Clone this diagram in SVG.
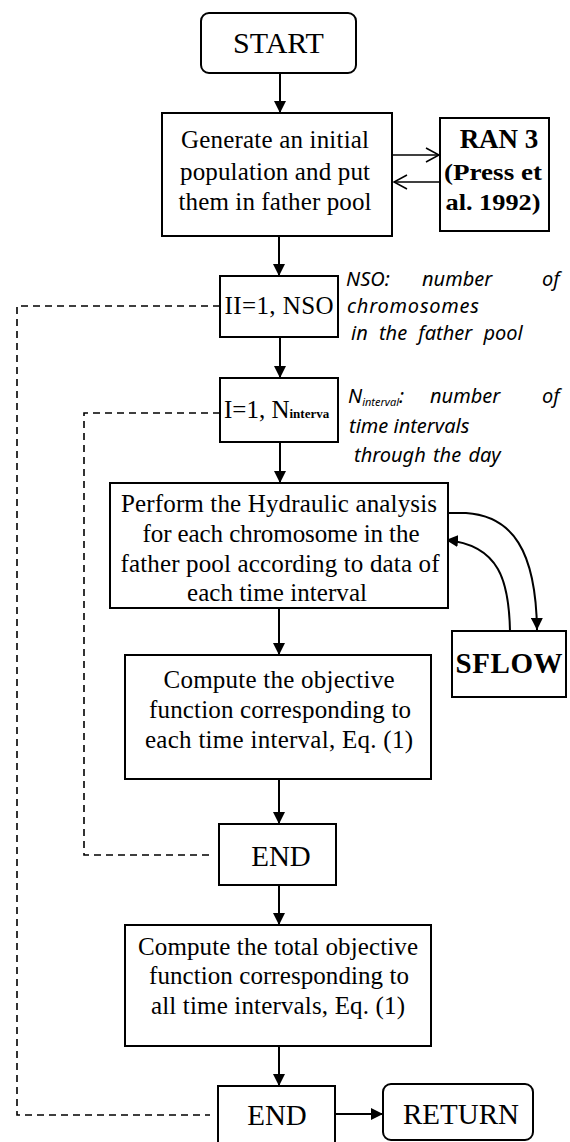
<svg xmlns="http://www.w3.org/2000/svg" width="570" height="1142" viewBox="0 0 570 1142">
<style>
.box{fill:#fff;stroke:#000;stroke-width:2}
.t{font-family:"Liberation Serif","Times New Roman",serif;font-size:25px;fill:#000;text-anchor:middle}
.b{font-family:"Liberation Serif","Times New Roman",serif;font-weight:bold;fill:#000;text-anchor:middle}
.lbl{font-family:"Noto Sans","DejaVu Sans",sans-serif;font-style:italic;font-size:20px;fill:#000}
.ln{fill:none;stroke:#000;stroke-width:2}
.dash{fill:none;stroke:#000;stroke-width:1.6;stroke-dasharray:7 5}
.thin{fill:none;stroke:#000;stroke-width:1.5}
</style>
<defs>
<marker id="arr" markerUnits="userSpaceOnUse" markerWidth="12" markerHeight="12" refX="12" refY="6" orient="auto">
<path d="M0,0 L12,6 L0,12 z" fill="#000"/>
</marker>
<marker id="chev" markerUnits="userSpaceOnUse" markerWidth="16" markerHeight="16" refX="14" refY="8" orient="auto">
<path d="M1,1 L14,8 L1,15" fill="none" stroke="#000" stroke-width="1.5"/>
</marker>
</defs>

<g id="connectors">
<line class="ln" x1="280" y1="73" x2="280" y2="113" marker-end="url(#arr)"/>
<line class="thin" x1="393" y1="155" x2="439" y2="155" marker-end="url(#chev)"/>
<line class="thin" x1="439" y1="182" x2="394" y2="182" marker-end="url(#chev)"/>
<line class="ln" x1="279" y1="236" x2="279" y2="276" marker-end="url(#arr)"/>
<line class="ln" x1="280" y1="337" x2="280" y2="378" marker-end="url(#arr)"/>
<line class="ln" x1="280" y1="442" x2="280" y2="483" marker-end="url(#arr)"/>
<path class="ln" d="M448,513 L466,513 C512,516 536,550 537,630" marker-end="url(#arr)"/>
<path class="ln" d="M510,631 C509,582 500,545 446,540" marker-end="url(#arr)"/>
<line class="ln" x1="279" y1="608" x2="279" y2="655" marker-end="url(#arr)"/>
<line class="ln" x1="279" y1="779" x2="279" y2="824" marker-end="url(#arr)"/>
<line class="ln" x1="279" y1="885" x2="279" y2="925" marker-end="url(#arr)"/>
<line class="ln" x1="279" y1="1046" x2="279" y2="1086" marker-end="url(#arr)"/>
<line class="ln" x1="335" y1="1114" x2="383" y2="1114" marker-end="url(#arr)"/>
<polyline class="dash" points="220,306 17,306 17,1115 210,1115"/>
<polyline class="dash" points="220,413 84,413 84,855 211,855"/>
</g>

<g id="start">
<rect class="box" x="201" y="13" width="155" height="60" rx="8"/>
<text class="t" x="278.5" y="53" style="font-size:30px">START</text>
</g>

<g id="generate">
<rect class="box" x="162" y="113" width="230" height="123"/>
<text class="t" x="275" y="148" textLength="188">Generate an initial</text>
<text class="t" x="275" y="180" textLength="190">population and put</text>
<text class="t" x="275" y="210" textLength="193">them in father pool</text>
</g>

<g id="ran3">
<rect class="box" x="440" y="118" width="109" height="113"/>
<text class="b" x="499" y="148" style="font-size:27px">RAN 3</text>
<text class="b" x="493" y="180" style="font-size:23px" textLength="98" lengthAdjust="spacingAndGlyphs">(Press et</text>
<text class="b" x="493" y="210" style="font-size:23px" textLength="95" lengthAdjust="spacingAndGlyphs">al. 1992)</text>
</g>

<g id="loop-nso">
<rect class="box" x="220" y="276" width="118" height="61"/>
<text class="t" x="279" y="314" textLength="109">II=1, NSO</text>
</g>

<g id="nso-label">
<text class="lbl" y="286"><tspan x="346">NSO:</tspan><tspan x="422">number</tspan><tspan x="542">of</tspan></text>
<text class="lbl" x="347" y="313" textLength="132">chromosomes</text>
<text class="lbl" x="351" y="340" style="word-spacing:6px">in the father pool</text>
</g>

<g id="loop-interval">
<rect class="box" x="220" y="378" width="118" height="64"/>
<text class="t" x="224" y="418" style="text-anchor:start">I=1, N<tspan style="font-size:13px;font-weight:bold">interva</tspan></text>
</g>

<g id="interval-label">
<text class="lbl" y="403"><tspan x="348">N</tspan><tspan style="font-size:11px" dy="3">interval</tspan><tspan dy="-3">:</tspan><tspan x="430">number</tspan><tspan x="542">of</tspan></text>
<text class="lbl" x="349" y="433">time intervals</text>
<text class="lbl" x="354" y="462" style="word-spacing:2px">through the day</text>
</g>

<g id="hydraulic">
<rect class="box" x="110" y="483" width="338" height="125"/>
<text class="t" x="279" y="512" textLength="316">Perform the Hydraulic analysis</text>
<text class="t" x="281" y="542" textLength="277">for each chromosome in the</text>
<text class="t" x="280" y="572" textLength="319">father pool according to data of</text>
<text class="t" x="277" y="601" textLength="180">each time interval</text>
</g>

<g id="sflow">
<rect class="box" x="452" y="631" width="114" height="66"/>
<text class="b" x="509" y="673" style="font-size:29px" textLength="107">SFLOW</text>
</g>

<g id="objective">
<rect class="box" x="125" y="655" width="306" height="124"/>
<text class="t" x="279" y="688" textLength="231">Compute the objective</text>
<text class="t" x="280" y="718" textLength="262">function corresponding to</text>
<text class="t" x="279" y="748" textLength="268">each time interval, Eq. (1)</text>
</g>

<g id="end1">
<rect class="box" x="219" y="824" width="117" height="61"/>
<text class="t" x="281" y="866" style="font-size:29px">END</text>
</g>

<g id="total">
<rect class="box" x="125" y="925" width="306" height="121"/>
<text class="t" x="278" y="955" textLength="280">Compute the total objective</text>
<text class="t" x="279" y="984" textLength="260">function corresponding to</text>
<text class="t" x="278" y="1014" textLength="254">all time intervals, Eq. (1)</text>
</g>

<g id="end2">
<rect class="box" x="218" y="1086" width="117" height="58"/>
<text class="t" x="277" y="1125" style="font-size:29px">END</text>
</g>

<g id="return">
<rect class="box" x="383" y="1084" width="150" height="56" rx="8"/>
<text class="t" x="461" y="1124" style="font-size:29px">RETURN</text>
</g>
</svg>
